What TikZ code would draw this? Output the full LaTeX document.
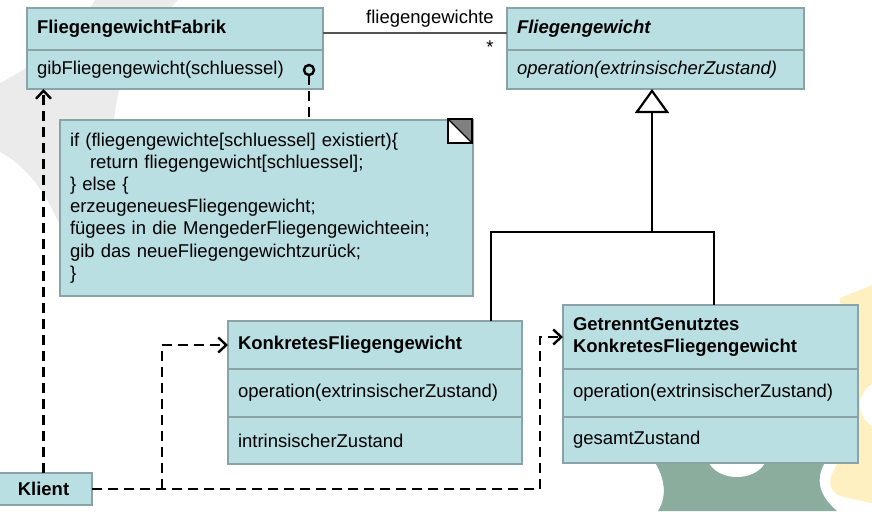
\documentclass[tikz,border=0pt]{standalone}
\usepackage{fontspec}
\setmainfont{Liberation Sans}
\usetikzlibrary{arrows.meta}
\definecolor{boxfill}{HTML}{B9DFE3}
\definecolor{boxline}{HTML}{8AA3A6}
\definecolor{blobgray}{HTML}{EBEBEB}
\definecolor{blobgreen}{HTML}{8AAD9D}
\definecolor{blobyellow}{HTML}{FFF0C2}
\definecolor{assocline}{HTML}{555555}
\begin{document}
\begin{tikzpicture}[x=1pt,y=-1pt,
  comp/.style={draw=boxline, fill=boxfill, line width=2.5pt, inner xsep=10pt, inner ysep=0pt, outer sep=0pt,
    anchor=north west, align=left, font=\fontsize{18.5}{22.2}\selectfont},
  lbl/.style={font=\fontsize{18.5}{22.2}\selectfont, inner sep=0pt},
  dep/.style={line width=2.6pt, dash pattern=on 10pt off 6pt, -{Straight Barb[length=8pt,width=15pt,line width=2.4pt]}},
  gen/.style={line width=2.2pt, black},
  assoc/.style={line width=2pt, assocline}]
\useasboundingbox (0,0) rectangle (872,511);
% background blobs
\fill[blobgray] (95,0) -- (178,0) .. controls (150,30) and (125,60) .. (117,100)
  .. controls (110,140) and (105,200) .. (100,260) -- (62,260) -- (62,230)
  .. controls (45,190) and (25,165) .. (0,152) -- (0,83) .. controls (35,65) and (75,35) .. (95,0) -- cycle;
\fill[blobgreen] (650,455) -- (830,455) .. controls (818,470) and (812,490) .. (837,511)
  -- (658,511) .. controls (668,495) and (665,475) .. (650,455) -- cycle;
\fill[white] (737,455) ellipse (30pt and 22pt);
\fill[blobyellow] (840,298) -- (872,285) -- (872,503) -- (848,498)
  .. controls (830,495) and (826,484) .. (834,470) -- (848,440) -- cycle;
\fill[white] (884,405) circle (24pt);

% FliegengewichtFabrik
\node[comp, text width=276pt, minimum height=42pt] (fab) at (27,8) {\textbf{FliegengewichtFabrik}};
\node[comp, text width=276pt, minimum height=39pt] (fabop) at (fab.south west) {gibFliegengewicht(schluessel)};
% Fliegengewicht
\node[comp, text width=277pt, minimum height=42pt] (fly) at (507,8) {\textbf{\itshape Fliegengewicht}};
\node[comp, text width=277pt, minimum height=39pt] (flyop) at (fly.south west) {\itshape operation(extrinsischerZustand)};
% Note
\node[comp, text width=393pt, minimum height=176pt] (note) at (60,120) {%
if (fliegengewichte[schluessel] existiert)\{\\
\hspace*{20pt}return fliegengewicht[schluessel];\\
\} else \{\\
erzeugeneuesFliegengewicht;\\
fügees in die MengederFliegengewichteein;\\
gib das neueFliegengewichtzurück;\\
\}};
\node[draw=black, line width=1.3pt, fill=white, minimum size=24pt, inner sep=0pt, outer sep=0pt, anchor=north east] (corner) at ([xshift=-1pt,yshift=1pt]note.north east) {};
\fill[gray] (corner.north west) -- (corner.north east) -- (corner.south east) -- cycle;
\draw[line width=1.3pt] (corner.north west) -- (corner.south east);
\draw[line width=1.3pt] (corner.north west) rectangle (corner.south east);
% Konkretes
\node[comp, text width=274pt, minimum height=48pt] (kon) at (228,321) {\textbf{KonkretesFliegengewicht}};
\node[comp, text width=274pt, minimum height=48pt] (konop) at (kon.south west) {operation(extrinsischerZustand)};
\node[comp, text width=274pt, minimum height=47pt] (konst) at (konop.south west) {intrinsischerZustand};
% Getrennt
\node[comp, text width=275pt, minimum height=64pt] (get) at (563,305) {\textbf{GetrenntGenutztes}\\\textbf{KonkretesFliegengewicht}};
\node[comp, text width=275pt, minimum height=48pt] (getop) at (get.south west) {operation(extrinsischerZustand)};
\node[comp, text width=275pt, minimum height=46pt] (getst) at (getop.south west) {gesamtZustand};
% Klient
\node[comp, anchor=center, align=center, text width=77pt, minimum height=32pt] (kl) at (43.5,489) {\textbf{Klient}};

% association
\draw[assoc] ([yshift=-4pt]fab.east) -- ([yshift=-4pt]fly.west);
\node[lbl, anchor=base] (lab) at (430,24) {fliegengewichte};
\node[lbl, anchor=base] (star) at (490,53) {*};

% lollipop and note link
\node[circle, draw=black, line width=2.4pt, fill=boxfill, minimum size=10pt, inner sep=0pt, outer sep=0pt] (lol) at (309,70) {};
\draw[line width=2.6pt, dash pattern=on 10pt off 6pt] (lol.south) -- (lol.south |- note.north);

% generalization
\coordinate (j) at (652,232);
\coordinate (jk) at (491,232);
\coordinate (jg) at (714,232);
\draw[gen, -{Triangle[length=24pt,width=34pt,fill=white]}] (j) -- (j |- flyop.south);
\draw[gen] (kon.north -| jk) -- (jk) -- (jg) -- (get.north -| jg);

% client dependencies
\coordinate (b1) at (162,489);
\coordinate (b2) at (540,489);
\draw[dep] (kl.north) -- (kl.north |- fabop.south);
\draw[dep] (kl.east) -- (b2) |- (get.west);
\draw[dep] (b1) |- (kon.west);
\end{tikzpicture}
\end{document}
